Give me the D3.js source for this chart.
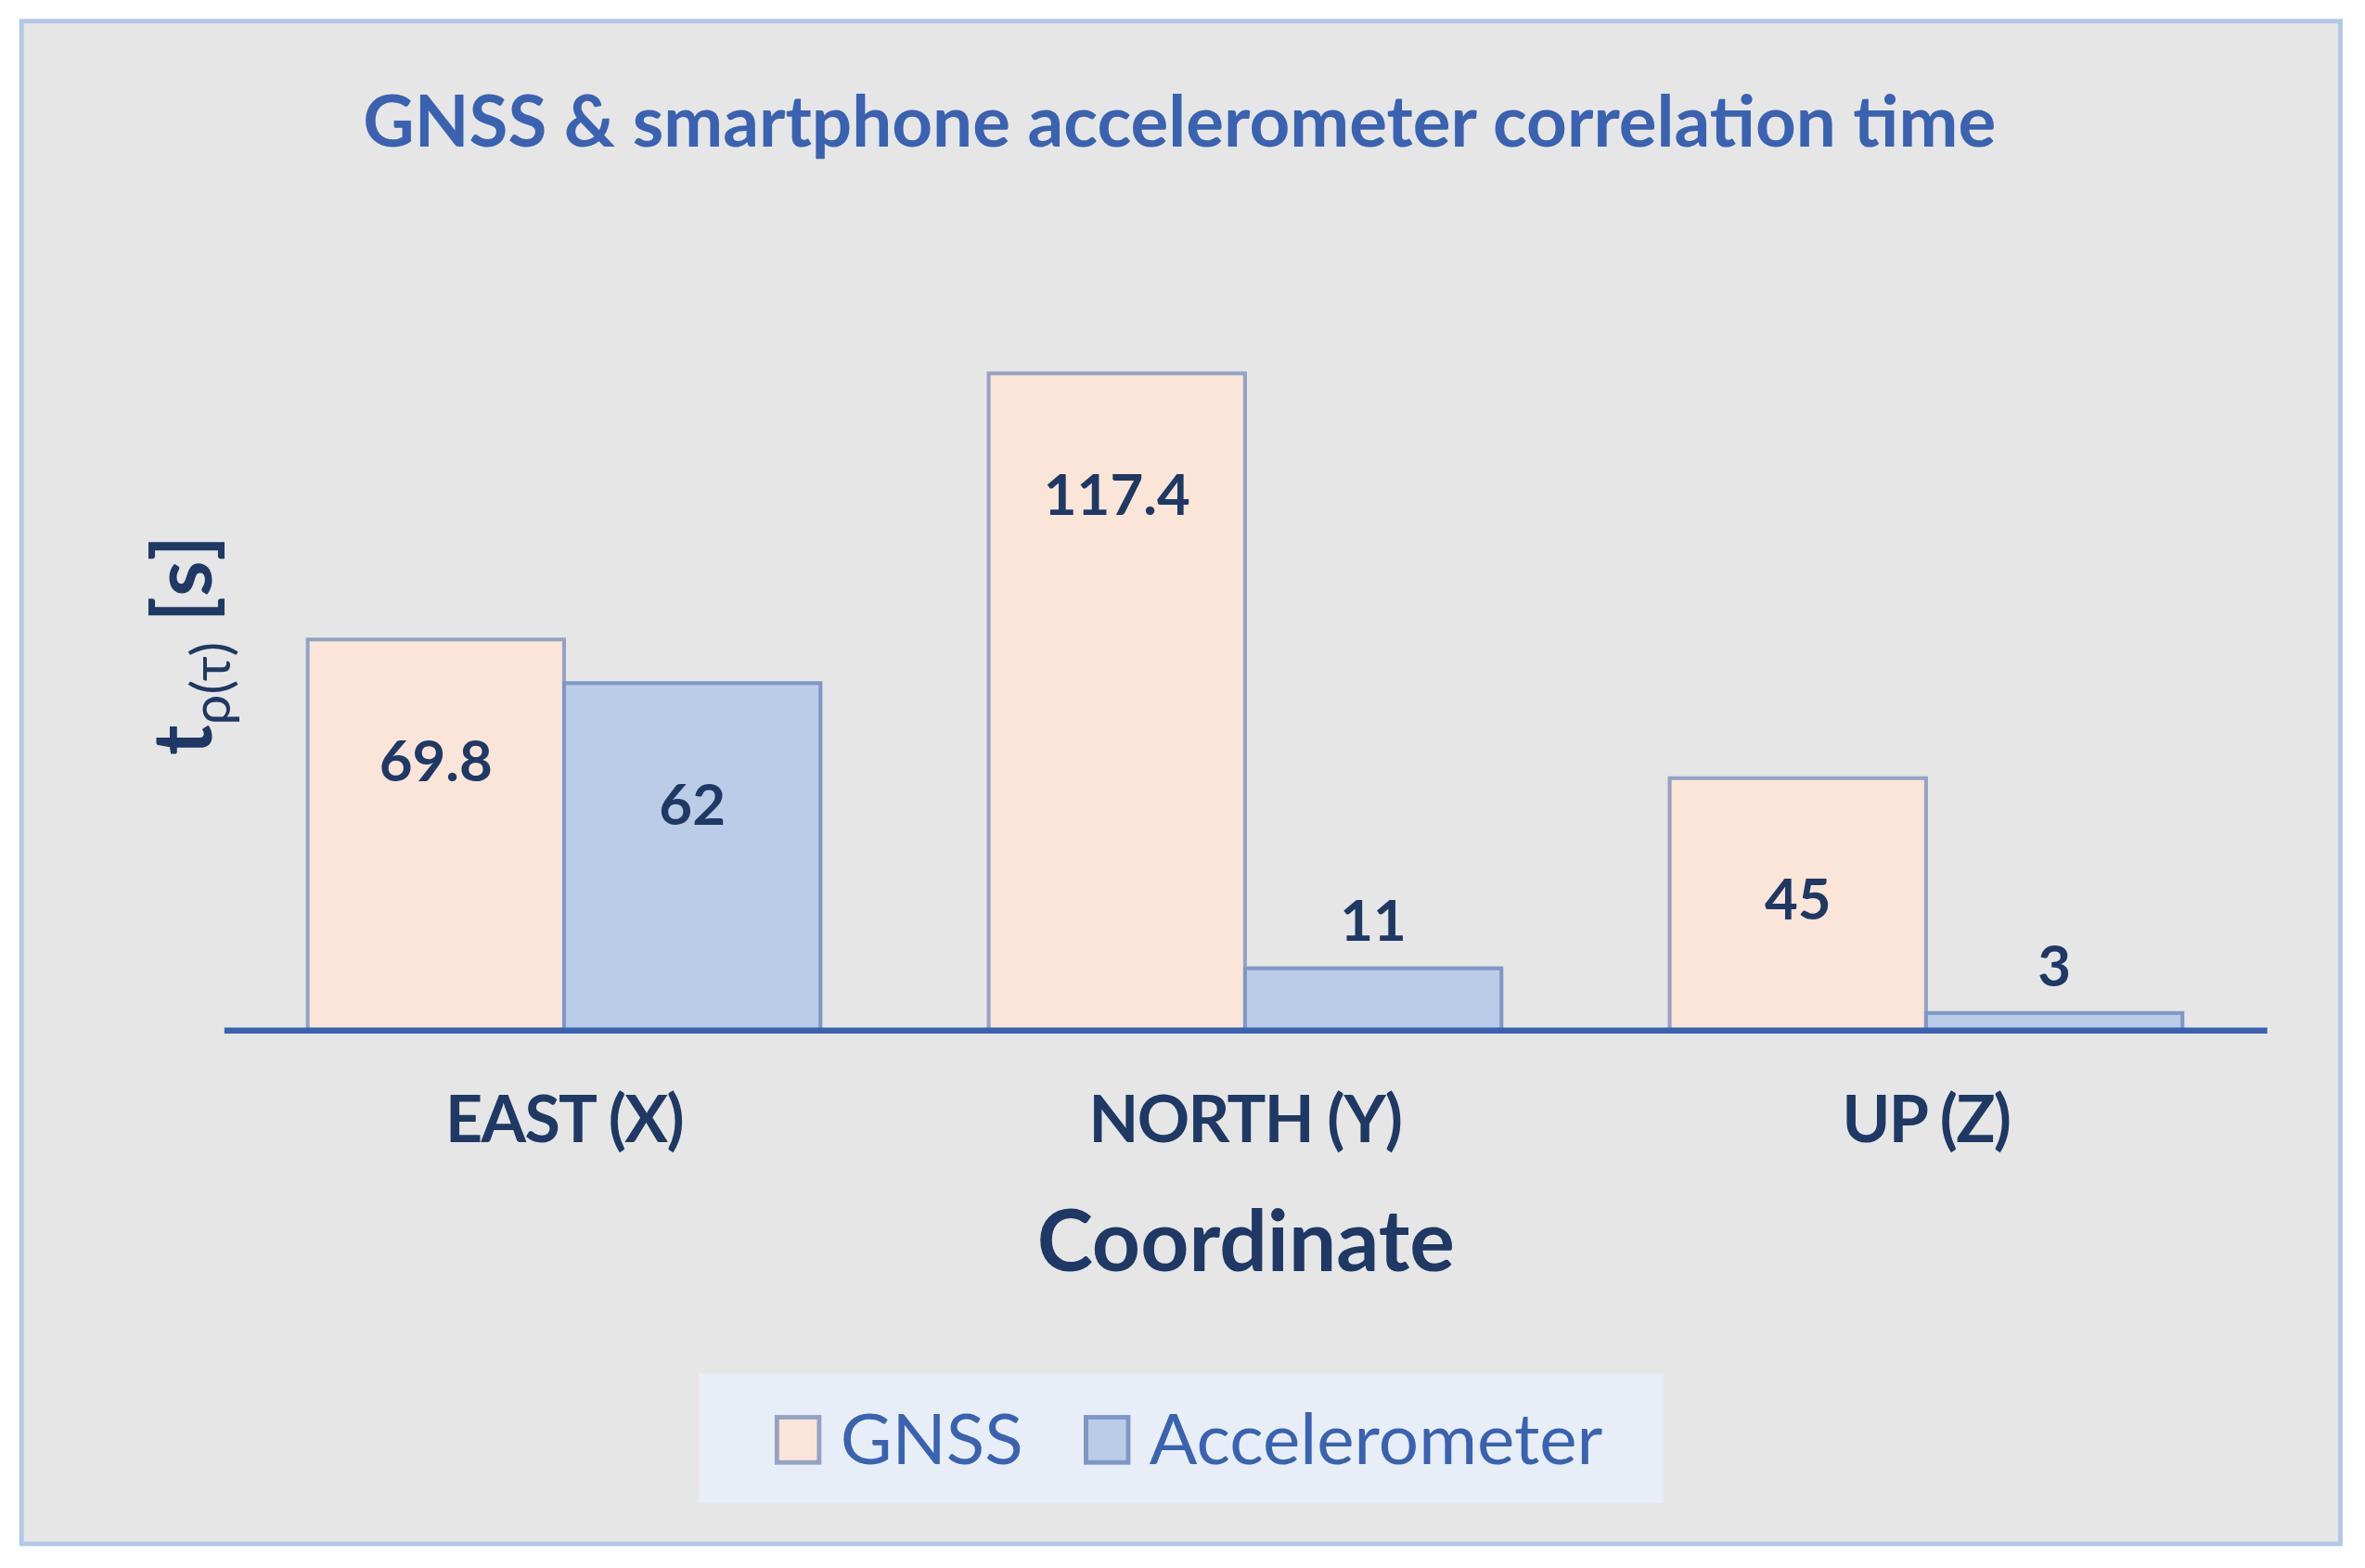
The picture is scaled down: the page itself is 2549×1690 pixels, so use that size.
<!DOCTYPE html>
<html>
<head>
<meta charset="utf-8">
<script src="https://cdn.jsdelivr.net/npm/d3@7"></script>
<style>
  body { margin: 0; background: #fff; }
  text { font-family: Lato, "Open Sans", sans-serif; }
</style>
</head>
<body>
<svg id="chart" width="2549" height="1690" viewBox="0 0 1568 1040"></svg>
<script>
const categories = ['EAST (X)', 'NORTH (Y)', 'UP (Z)'];
const seriesNames = ['GNSS', 'Accelerometer'];
const gnssValues = [69.8, 117.4, 45];
const accelValues = [62, 11, 3];

const fills = { GNSS: '#fae5d8', Accelerometer: '#bbcce8' };
const strokes = { GNSS: '#94a3c4', Accelerometer: '#7f97c6' };

const svg = d3.select('#chart');

// frame
svg.append('rect').attr('x', 14).attr('y', 14).attr('width', 1538).attr('height', 1010)
    .attr('fill', '#e6e6e6').attr('stroke', '#b4c7e7').attr('stroke-width', 3);

svg.append('text').attr('x', 782).attr('y', 97).attr('text-anchor', 'middle')
    .attr('font-size', 47).attr('font-weight', 'bold').attr('fill', '#3a62b0')
    .text('GNSS & smartphone accelerometer correlation time');

const x = d3.scaleBand().domain(categories).range([148, 1503]).paddingInner(0.247).paddingOuter(0.1235);
const xs = d3.scaleBand().domain(seriesNames).range([0, x.bandwidth()]);
const y = d3.scaleLinear().domain([0, 120]).range([683, 238]);

const rows = categories.map((c, i) => ({ c, vals: [
    { s: 'GNSS', v: gnssValues[i] }, { s: 'Accelerometer', v: accelValues[i] }] }));

const g = svg.append('g').selectAll('g').data(rows).enter().append('g')
    .attr('transform', d => `translate(${x(d.c)},0)`);

g.selectAll('rect').data(d => d.vals).enter().append('rect')
    .attr('x', d => xs(d.s)).attr('y', d => y(d.v))
    .attr('width', xs.bandwidth()).attr('height', d => y(0) - y(d.v))
    .attr('fill', d => fills[d.s]).attr('stroke', d => strokes[d.s]).attr('stroke-width', 2.5);

g.selectAll('text').data(d => d.vals).enter().append('text')
    .attr('x', d => xs(d.s) + xs.bandwidth() / 2)
    .attr('y', d => d.v > 20 ? y(d.v) + 94 : y(d.v) - 18)
    .attr('text-anchor', 'middle').attr('font-size', 38).attr('font-weight', 'bold')
    .attr('fill', '#1f3864').text(d => d.v);

// axis
const ax = svg.append('g').attr('transform', 'translate(0,683)').call(d3.axisBottom(x).tickSize(0).tickPadding(44));
ax.select('.domain').attr('stroke', '#3a62b0').attr('stroke-width', 4);
ax.selectAll('text').attr('font-size', 43).attr('font-weight', 'bold').attr('fill', '#1f3864')
    .attr('font-family', 'Lato, sans-serif').attr('letter-spacing', -1);

svg.append('text').attr('x', 826).attr('y', 843).attr('text-anchor', 'middle')
    .attr('font-size', 56).attr('font-weight', 'bold').attr('fill', '#1f3864').text('Coordinate');

const yl = svg.append('text').attr('transform', 'translate(140,428) rotate(-90)')
    .attr('text-anchor', 'middle').attr('font-weight', 'bold').attr('fill', '#1f3864').attr('font-size', 54);
yl.append('tspan').text('t');
yl.append('tspan').attr('font-size', 36).attr('dy', 12).attr('font-weight', 'normal').text('ρ(τ)');
yl.append('tspan').attr('dy', -12).text(' [s]');

// legend
svg.append('rect').attr('x', 463).attr('y', 911).attr('width', 640).attr('height', 86).attr('fill', '#e8eef8');
const leg = svg.selectAll('.leg').data(seriesNames).enter().append('g')
    .attr('transform', (d, i) => `translate(${[515, 720][i]},940)`);
leg.append('rect').attr('width', 28).attr('height', 30)
    .attr('fill', d => fills[d]).attr('stroke', d => strokes[d]).attr('stroke-width', 3);
leg.append('text').attr('x', 42).attr('y', 31).attr('font-size', 47).attr('fill', '#3a62b0').text(d => d);
</script>
</body>
</html>
